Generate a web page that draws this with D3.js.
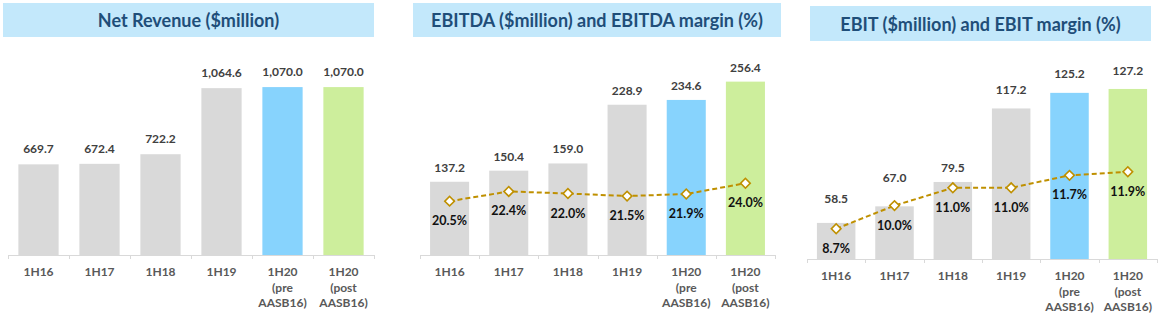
<!DOCTYPE html>
<html>
<head>
<meta charset="utf-8">
<script src="https://cdn.jsdelivr.net/npm/d3@7/dist/d3.min.js"></script>
<style>
  html, body { margin: 0; padding: 0; background: #ffffff; }
  svg { display: block; }
  text { font-family: Lato, "Open Sans", "Liberation Sans", sans-serif; font-weight: 700; }
</style>
</head>
<body>
<svg id="chart" width="1158" height="336"></svg>
<script>
// Half-year periods shown on every panel
const periods = ["1H16", "1H17", "1H18", "1H19", "1H20\n(pre\nAASB16)", "1H20\n(post\nAASB16)"];

// Net revenue, $ million
const revenue = [669.7, 672.4, 722.2, 1064.6, 1070.0, 1070.0];

// EBITDA, $ million, and EBITDA margin, %
const ebitda = [137.2, 150.4, 159.0, 228.9, 234.6, 256.4];
const ebitdaMargin = [20.5, 22.4, 22.0, 21.5, 21.9, 24.0];

// EBIT, $ million, and EBIT margin, %
const ebit = [58.5, 67.0, 79.5, 117.2, 125.2, 127.2];
const ebitMargin = [8.7, 10.0, 11.0, 11.0, 11.7, 11.9];

const barColors = ["#d9d9d9", "#d9d9d9", "#d9d9d9", "#d9d9d9", "#87d3fd", "#cdee9c"];
const lineColor = "#bf9000";

const svg = d3.select("#chart");

// Layout of each panel: title band, category axis, value ranges
const panels = [
  {
    title: "Net Revenue ($million)",
    titleBox: [3, 3, 371, 34],
    xRange: [8, 374], baseY: 255,
    bars: revenue, barDomain: [200, 1200], barTop: 62,
    fmt: d3.format(",.1f"), labelGap: [11, 11, 11, 11, 11, 11]
  },
  {
    title: "EBITDA ($million) and EBITDA margin (%)",
    titleBox: [413, 3, 368, 34],
    xRange: [420, 775], baseY: 255,
    bars: ebitda, barDomain: [50, 300], barTop: 45,
    line: ebitdaMargin, lineDomain: [10, 50], lineTop: 50,
    fmt: d3.format(".1f"), labelGap: [10, 10, 10, 10, 10, 10]
  },
  {
    title: "EBIT ($million) and EBIT margin (%)",
    titleBox: [810, 6, 341, 35],
    xRange: [807, 1157], baseY: 259,
    bars: ebit, barDomain: [40, 130], barTop: 83.5,
    line: ebitMargin, lineDomain: [7, 12], lineTop: 170,
    fmt: d3.format(".1f"), labelGap: [20, 24, 10, 14, 15, 14]
  }
];

panels.forEach(p => {
  const g = svg.append("g");

  // title band
  const [tx, ty, tw, th] = p.titleBox;
  g.append("rect").attr("x", tx).attr("y", ty).attr("width", tw).attr("height", th)
    .attr("fill", "#c3e8fb");
  g.append("text").attr("x", tx + tw / 2).attr("y", ty + th / 2)
    .attr("text-anchor", "middle").attr("dominant-baseline", "central")
    .attr("font-size", 18).attr("fill", "#1f4e79")
    .text(p.title);

  const x = d3.scaleBand().domain(d3.range(periods.length))
    .range(p.xRange).paddingInner(0.34).paddingOuter(0.17);
  const y = d3.scaleLinear().domain(p.barDomain).range([p.baseY, p.barTop]);

  // bars
  g.selectAll(".bar").data(p.bars).join("rect")
    .attr("x", (d, i) => x(i)).attr("width", x.bandwidth())
    .attr("y", d => y(d)).attr("height", d => p.baseY - y(d))
    .attr("fill", (d, i) => barColors[i]);

  // value labels above bars
  g.selectAll(".val").data(p.bars).join("text")
    .attr("x", (d, i) => x(i) + x.bandwidth() / 2)
    .attr("y", (d, i) => y(d) - p.labelGap[i])
    .attr("text-anchor", "middle").attr("font-size", 12).attr("fill", "#404040")
    .text(d => p.fmt(d));

  // category axis with boundary ticks
  const step = x.step();
  g.append("line").attr("x1", p.xRange[0]).attr("x2", p.xRange[1])
    .attr("y1", p.baseY + 0.5).attr("y2", p.baseY + 0.5)
    .attr("stroke", "#d9d9d9").attr("stroke-width", 1);
  g.selectAll(".tick").data(d3.range(periods.length + 1)).join("line")
    .attr("x1", i => Math.round(p.xRange[0] + i * step) + 0.5)
    .attr("x2", i => Math.round(p.xRange[0] + i * step) + 0.5)
    .attr("y1", p.baseY).attr("y2", p.baseY + 4)
    .attr("stroke", "#d9d9d9");

  const cat = g.selectAll(".cat").data(periods).join("text")
    .attr("x", (d, i) => x(i) + x.bandwidth() / 2)
    .attr("y", p.baseY + 21)
    .attr("text-anchor", "middle").attr("font-size", 12).attr("fill", "#595959");
  cat.each(function (d) {
    const t = d3.select(this);
    d.split("\n").forEach((s, k) => {
      t.append("tspan").attr("x", t.attr("x")).attr("dy", k === 0 ? 0 : 15.5).text(s);
    });
  });

  // margin line on a secondary scale
  if (p.line) {
    const y2 = d3.scaleLinear().domain(p.lineDomain).range([p.baseY, p.lineTop]);
    const cx = (d, i) => x(i) + x.bandwidth() / 2;
    g.append("path").datum(p.line)
      .attr("d", d3.line().x(cx).y(d => y2(d)))
      .attr("fill", "none").attr("stroke", lineColor)
      .attr("stroke-width", 2).attr("stroke-dasharray", "5,3");
    g.selectAll(".pt").data(p.line).join("path")
      .attr("d", d3.symbol(d3.symbolSquare, 46))
      .attr("transform", (d, i) => `translate(${cx(d, i)},${y2(d)}) rotate(45)`)
      .attr("fill", "#ffffff").attr("stroke", lineColor).attr("stroke-width", 1.6);
    g.selectAll(".pct").data(p.line).join("text")
      .attr("x", cx).attr("y", d => y2(d) + 24)
      .attr("text-anchor", "middle").attr("font-size", 12.5).attr("fill", "#111111")
      .text(d => d3.format(".1f")(d) + "%");
  }
});
</script>
</body>
</html>
